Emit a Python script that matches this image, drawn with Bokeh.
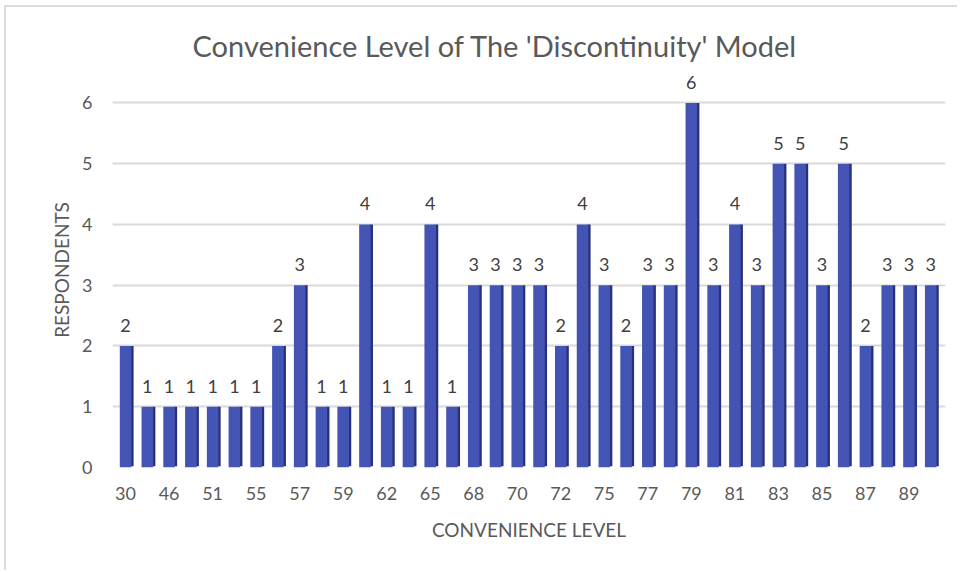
from bokeh.plotting import figure
from bokeh.models import Range1d, ColumnDataSource, FixedTicker, LabelSet
from bokeh.core.properties import value
from bokeh.embed import file_html
from bokeh.resources import INLINE

# ---- data (unlabeled categories are guesses) ----
levels = ["30", "45", "46", "50", "51", "54", "55", "56", "57", "58",
          "59", "60", "62", "64", "65", "66", "68", "69", "70", "71",
          "72", "74", "75", "76", "77", "78", "79", "80", "81", "82",
          "83", "84", "85", "86", "87", "88", "89", "90"]
respondents = [2, 1, 1, 1, 1, 1, 1, 2, 3, 1,
               1, 4, 1, 1, 4, 1, 3, 3, 3, 3,
               2, 4, 3, 2, 3, 3, 6, 3, 4, 3,
               5, 5, 3, 5, 2, 3, 3, 3]
y_ticks = [0, 1, 2, 3, 4, 5, 6]
title_text = "Convenience Level of The 'Discontinuity' Model"
x_label = "CONVENIENCE LEVEL"
y_label = "RESPONDENTS"

FONT = "Lato"
TXT = "#595959"

pos = list(range(len(levels)))
src = ColumnDataSource(dict(x=pos, level=levels, n=respondents,
                            lab=[str(v) for v in respondents],
                            xs=[i + 0.3 for i in pos]))

p = figure(width=953, height=565,
           x_range=Range1d(-0.6, len(levels) - 0.32), y_range=(0, 6.5),
           output_backend="svg", toolbar_location=None,
           min_border_left=106, min_border_right=14,
           min_border_top=65, min_border_bottom=105)
p.styles = {"margin-left": "4px", "margin-top": "5px",
            "border-top": "2px solid #dcdcdc",
            "border-left": "2px solid #dcdcdc"}

p.title.text = title_text
p.title.text_font = FONT
p.title.text_font_size = "29px"
p.title.text_font_style = "normal"
p.title.text_color = TXT
p.title.align = "left"
p.title.offset = 80
p.title.standoff = 20

# side face (darker) and front face of the columns
p.vbar(x="xs", top="n", bottom=0.02, width=0.14, source=src,
       fill_color="#27317a", line_color=None)
p.vbar(x="x", top="n", width=0.53, source=src,
       fill_color="#4454b4", line_color=None)

labels = LabelSet(x="x", y="n", text="lab", source=src,
                  text_align="center", text_baseline="bottom", y_offset=14,
                  text_font=value(FONT), text_font_size=value("18px"),
                  text_color=value("#404040"))
p.add_layout(labels)

p.outline_line_color = None
p.xgrid.grid_line_color = None
p.ygrid.grid_line_color = "#d9d9d9"
p.ygrid.grid_line_width = 2
p.yaxis.ticker = FixedTicker(ticks=y_ticks)
p.xaxis.ticker = FixedTicker(ticks=pos[::2])
p.xaxis.major_label_overrides = {i: levels[i] for i in pos}

for ax in (p.xaxis, p.yaxis):
    ax.axis_line_color = None
    ax.major_tick_line_color = None
    ax.minor_tick_line_color = None
    ax.major_label_text_font = FONT
    ax.major_label_text_font_size = "18px"
    ax.major_label_text_color = TXT
    ax.axis_label_text_font = FONT
    ax.axis_label_text_font_size = "19px"
    ax.axis_label_text_font_style = "normal"
    ax.axis_label_text_color = TXT

p.xaxis.axis_label = x_label
p.yaxis.axis_label = y_label
p.xaxis.major_label_standoff = 13
p.yaxis.major_label_standoff = 14
p.xaxis.axis_label_standoff = 15
p.yaxis.axis_label_standoff = 6

open("out.html", "w").write(file_html(p, INLINE))
